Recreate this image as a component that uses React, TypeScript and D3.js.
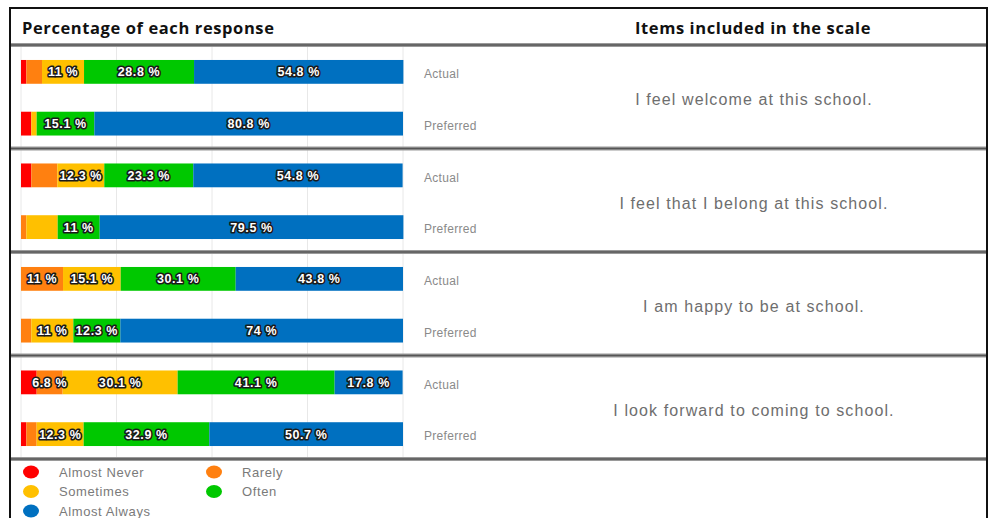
import React from "react";
import * as d3 from "d3";

const categories = ["Almost Never", "Rarely", "Sometimes", "Often", "Almost Always"];
const colors = ["#FF0000", "#FF8010", "#FFC000", "#00C800", "#0070C0"];
const items = [
  "I feel welcome at this school.",
  "I feel that I belong at this school.",
  "I am happy to be at school.",
  "I look forward to coming to school.",
];
const rowTypes = ["Actual", "Preferred"];

const welcomeActual = [1.4, 4.1, 11, 28.8, 54.8];
const welcomePreferred = [2.7, 0, 1.4, 15.1, 80.8];
const belongActual = [2.7, 6.8, 12.3, 23.3, 54.8];
const belongPreferred = [0, 1.4, 8.2, 11, 79.5];
const happyActual = [0, 11, 15.1, 30.1, 43.8];
const happyPreferred = [0, 2.7, 11, 12.3, 74];
const forwardActual = [4.1, 6.8, 30.1, 41.1, 17.8];
const forwardPreferred = [1.4, 2.7, 12.3, 32.9, 50.7];

// which segments carry a visible label
const welcomeActualShow = [0, 0, 1, 1, 1];
const welcomePreferredShow = [0, 0, 0, 1, 1];
const belongActualShow = [0, 0, 1, 1, 1];
const belongPreferredShow = [0, 0, 0, 1, 1];
const happyActualShow = [0, 1, 1, 1, 1];
const happyPreferredShow = [0, 0, 1, 1, 1];
const forwardActualShow = [0, 1, 1, 1, 1];
const forwardPreferredShow = [0, 0, 1, 1, 1];

const xTicks = [0, 25, 50, 75, 100];

const rows = [
  { values: welcomeActual, show: welcomeActualShow },
  { values: welcomePreferred, show: welcomePreferredShow },
  { values: belongActual, show: belongActualShow },
  { values: belongPreferred, show: belongPreferredShow },
  { values: happyActual, show: happyActualShow },
  { values: happyPreferred, show: happyPreferredShow },
  { values: forwardActual, show: forwardActualShow },
  { values: forwardPreferred, show: forwardPreferredShow },
];

const W = 995;
const H = 518;
const bodyTop = 46;
const bodyBottom = 460;
const boxL = 10;
const boxR = 987;

export default function App() {
  const x = d3.scaleLinear().domain([0, 100]).range([21, 403]);
  const y = d3
    .scaleBand<number>()
    .domain(d3.range(rows.length))
    .range([bodyTop, bodyBottom])
    .paddingInner(0.54)
    .paddingOuter(0.27);
  const groupH = (bodyBottom - bodyTop) / items.length;
  const font = "'Liberation Sans', Arial, sans-serif";

  return (
    <svg
      width={W}
      height={H}
      style={{ position: "absolute", left: 0, top: 0, background: "#fff" }}
      fontFamily={font}
    >
      {/* gridlines */}
      {xTicks.map((t) => (
        <line
          key={t}
          x1={x(t)}
          x2={x(t)}
          y1={bodyTop}
          y2={bodyBottom}
          stroke="#e8e8e8"
          strokeWidth={1}
        />
      ))}

      {/* bars */}
      {rows.map((r, i) => {
        const stack = d3.cumsum(r.values);
        const y0 = y(i)!;
        const bh = y.bandwidth();
        return (
          <g key={i}>
            {r.values.map((v, j) => {
              const start = j === 0 ? 0 : stack[j - 1];
              const x0 = x(start);
              const x1 = x(start + v);
              if (v <= 0) return null;
              return (
                <rect
                  key={j}
                  x={x0}
                  y={y0}
                  width={x1 - x0}
                  height={bh}
                  fill={colors[j]}
                />
              );
            })}
            {r.values.map((v, j) => {
              if (!r.show[j]) return null;
              const start = j === 0 ? 0 : stack[j - 1];
              const cx = (x(start) + x(start + v)) / 2;
              return (
                <text
                  key={"t" + j}
                  x={cx}
                  y={y0 + bh / 2}
                  dy="0.36em"
                  textAnchor="middle"
                  fontSize={12.5}
                  fontWeight="bold"
                  letterSpacing={0.6}
                  fill="#ffffff"
                  stroke="#1a1a1a"
                  strokeWidth={3.2}
                  strokeLinejoin="round"
                  style={{ paintOrder: "stroke" }}
                >
                  {`${v} %`}
                </text>
              );
            })}
            <text
              x={424}
              y={y0 + bh / 2 + 2}
              dy="0.35em"
              fontSize={12}
              letterSpacing={0.3}
              fill="#8a8a8a"
            >
              {rowTypes[i % 2]}
            </text>
          </g>
        );
      })}

      {/* items */}
      {items.map((it, k) => (
        <text
          key={it}
          x={754}
          y={bodyTop + groupH * (k + 0.5) + 2}
          dy="0.35em"
          textAnchor="middle"
          fontSize={16}
          letterSpacing={1.1}
          fill="#6e6e6e"
        >
          {it}
        </text>
      ))}

      {/* header */}
      <text x={22} y={28} dy="0.35em" fontSize={16.5} fontWeight="bold" letterSpacing={0.6} fill="#111" fontFamily="'Open Sans', sans-serif">
        Percentage of each response
      </text>
      <text x={753} y={28} dy="0.35em" fontSize={16.5} fontWeight="bold" letterSpacing={0.6} fill="#111" textAnchor="middle" fontFamily="'Open Sans', sans-serif">
        Items included in the scale
      </text>

      {/* separators */}
      {d3.range(items.length + 1).map((k) => {
        const yy = bodyTop - 1 + groupH * k;
        return (
          <g key={"sep" + k}>
            <line x1={boxL} x2={boxR} y1={yy} y2={yy} stroke="#9a9a9a" strokeWidth={4} />
            <line x1={boxL} x2={boxR} y1={yy} y2={yy} stroke="#555" strokeWidth={1.5} />
          </g>
        );
      })}

      {/* legend */}
      {categories.map((c, j) => {
        const col = j % 2;
        const row = Math.floor(j / 2);
        const lx = col === 0 ? 31 : 214;
        const ly = 472 + row * 19.5;
        return (
          <g key={c}>
            <ellipse cx={lx} cy={ly} rx={8} ry={6.5} fill={colors[j]} />
            <text x={lx + 28} y={ly} dy="0.35em" fontSize={13} letterSpacing={0.6} fill="#7a7a7a">
              {c}
            </text>
          </g>
        );
      })}

      {/* outer border */}
      <rect
        x={boxL}
        y={8}
        width={boxR - boxL}
        height={H + 20}
        fill="none"
        stroke="#111"
        strokeWidth={2}
      />
    </svg>
  );
}
